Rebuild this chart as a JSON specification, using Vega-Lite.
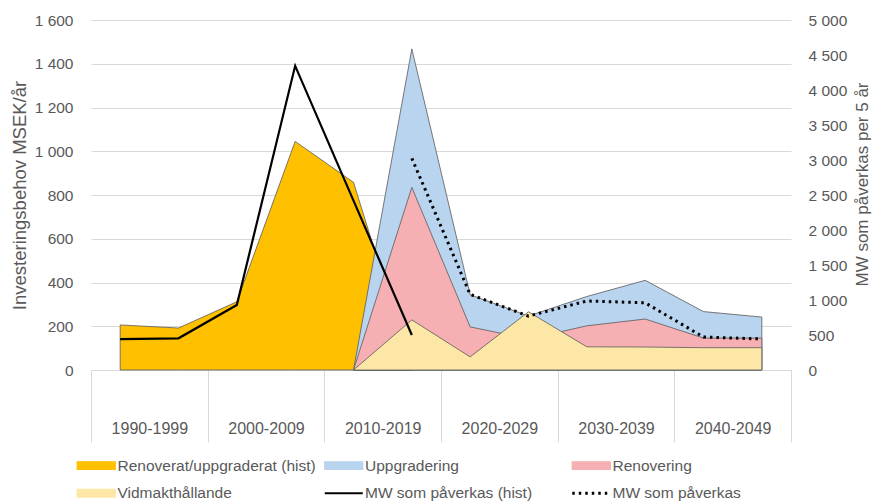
{
  "$schema": "https://vega.github.io/schema/vega-lite/v6.json",
  "width": 700,
  "height": 350,
  "autosize": {"type": "none"},
  "padding": {"left": 91, "top": 20, "right": 86, "bottom": 131},
  "background": "white",
  "config": {
    "view": {"stroke": null},
    "font": "Liberation Sans",
    "axis": {"labelFont": "Liberation Sans", "titleFont": "Liberation Sans", "labelColor": "#595959", "titleColor": "#595959", "titleFontWeight": "normal"}
  },
  "datasets": {
    "areas": [
      {"year": 1992.5, "series": "Renoverat/uppgraderat (hist)", "value": 206},
      {"year": 1997.5, "series": "Renoverat/uppgraderat (hist)", "value": 192},
      {"year": 2002.5, "series": "Renoverat/uppgraderat (hist)", "value": 312},
      {"year": 2007.5, "series": "Renoverat/uppgraderat (hist)", "value": 1045},
      {"year": 2012.5, "series": "Renoverat/uppgraderat (hist)", "value": 858},
      {"year": 2017.5, "series": "Renoverat/uppgraderat (hist)", "value": 0},
      {"year": 2012.5, "series": "Uppgradering", "value": 0},
      {"year": 2017.5, "series": "Uppgradering", "value": 1468},
      {"year": 2022.5, "series": "Uppgradering", "value": 344},
      {"year": 2027.5, "series": "Uppgradering", "value": 247},
      {"year": 2032.5, "series": "Uppgradering", "value": 336},
      {"year": 2037.5, "series": "Uppgradering", "value": 410},
      {"year": 2042.5, "series": "Uppgradering", "value": 267},
      {"year": 2047.5, "series": "Uppgradering", "value": 242},
      {"year": 2012.5, "series": "Renovering", "value": 0},
      {"year": 2017.5, "series": "Renovering", "value": 835},
      {"year": 2022.5, "series": "Renovering", "value": 197},
      {"year": 2027.5, "series": "Renovering", "value": 142},
      {"year": 2032.5, "series": "Renovering", "value": 202},
      {"year": 2037.5, "series": "Renovering", "value": 233},
      {"year": 2042.5, "series": "Renovering", "value": 146},
      {"year": 2047.5, "series": "Renovering", "value": 146},
      {"year": 2012.5, "series": "Vidmakthållande", "value": 0},
      {"year": 2017.5, "series": "Vidmakthållande", "value": 229},
      {"year": 2022.5, "series": "Vidmakthållande", "value": 60},
      {"year": 2027.5, "series": "Vidmakthållande", "value": 266},
      {"year": 2032.5, "series": "Vidmakthållande", "value": 106},
      {"year": 2037.5, "series": "Vidmakthållande", "value": 105},
      {"year": 2042.5, "series": "Vidmakthållande", "value": 102},
      {"year": 2047.5, "series": "Vidmakthållande", "value": 102}
    ],
    "mw": [
      {"year": 1992.5, "series": "MW som påverkas (hist)", "mw": 440},
      {"year": 1997.5, "series": "MW som påverkas (hist)", "mw": 453},
      {"year": 2002.5, "series": "MW som påverkas (hist)", "mw": 929},
      {"year": 2007.5, "series": "MW som påverkas (hist)", "mw": 4345},
      {"year": 2012.5, "series": "MW som påverkas (hist)", "mw": 2420},
      {"year": 2017.5, "series": "MW som påverkas (hist)", "mw": 500},
      {"year": 2017.5, "series": "MW som påverkas", "mw": 3024},
      {"year": 2022.5, "series": "MW som påverkas", "mw": 1080},
      {"year": 2027.5, "series": "MW som påverkas", "mw": 770},
      {"year": 2032.5, "series": "MW som påverkas", "mw": 986},
      {"year": 2037.5, "series": "MW som påverkas", "mw": 960},
      {"year": 2042.5, "series": "MW som påverkas", "mw": 471},
      {"year": 2047.5, "series": "MW som påverkas", "mw": 443}
    ]
  },
  "layer": [
    {
      "data": {"name": "areas"},
      "encoding": {
        "x": {"field": "year", "type": "quantitative", "scale": {"domain": [1990, 2050], "nice": false, "zero": false},
          "axis": {"orient": "bottom", "values": [1990, 2000, 2010, 2020, 2030, 2040, 2050], "tickSize": 72, "tickColor": "#d9d9d9", "tickWidth": 1, "labels": false, "domainColor": "#d9d9d9", "title": null, "grid": false}},
        "y": {"field": "value", "type": "quantitative", "stack": null, "scale": {"domain": [0, 1600], "nice": false},
          "axis": {"title": "Investeringsbehov MSEK/år", "values": [0, 200, 400, 600, 800, 1000, 1200, 1400, 1600], "grid": true, "gridColor": "#d9d9d9", "domain": false, "ticks": false, "labelPadding": 18, "labelFontSize": 15.5, "labelExpr": "replace(format(datum.value, ','), ',', ' ')", "titleFontSize": 18.5, "titlePadding": 5}},
        "color": {"field": "series", "type": "nominal",
          "scale": {"domain": ["Renoverat/uppgraderat (hist)", "Uppgradering", "Renovering", "Vidmakthållande", "MW som påverkas (hist)", "MW som påverkas"],
                    "range": ["#FFC000", "#b9d4ee", "#f6b0b3", "#fde7a6", "#000000", "#000000"]},
          "legend": {
            "orient": "none", "legendX": -2.5, "legendY": 437.5, "columns": 3, "direction": "horizontal", "title": null,
            "gridAlign": "all", "columnPadding": 1.5, "rowPadding": 11, "padding": 0,
            "symbolType": "M-2,-0.4H2V0.4H-2Z", "symbolSize": 361, "labelOffset": 13.5,
            "labelFont": "Liberation Sans", "labelFontSize": 15.5, "labelColor": "#595959", "labelLimit": 300,
            "encode": {"symbols": {"update": {
              "shape": {"signal": "indexof(['MW som påverkas (hist)','MW som påverkas'], datum.value) >= 0 ? 'M-2,0H2' : 'M-2,-0.4H2V0.4H-2Z'"},
              "fill": {"signal": "indexof(['MW som påverkas (hist)','MW som påverkas'], datum.value) >= 0 ? 'transparent' : scale('color', datum.value)"},
              "fillOpacity": {"value": 1},
              "opacity": {"value": 1},
              "strokeOpacity": {"value": 1},
              "stroke": {"signal": "indexof(['MW som påverkas (hist)','MW som påverkas'], datum.value) >= 0 ? '#000000' : '#262626'"},
              "strokeWidth": {"signal": "datum.value == 'MW som påverkas (hist)' ? 2.2 : (datum.value == 'MW som påverkas' ? 3 : 1.3)"},
              "strokeDash": {"signal": "datum.value == 'MW som påverkas' ? [2.5, 4] : [1, 0]"}
            }}}
          }}
      },
      "layer": [
        {"transform": [{"filter": "datum.series == 'Renoverat/uppgraderat (hist)'"}],
         "mark": {"type": "area", "stroke": "#595959", "strokeWidth": 0.8, "opacity": 1, "fillOpacity": 1}},
        {"transform": [{"filter": "datum.series == 'Uppgradering'"}],
         "mark": {"type": "area", "stroke": "#595959", "strokeWidth": 0.8, "opacity": 1, "fillOpacity": 1}},
        {"transform": [{"filter": "datum.series == 'Renovering'"}],
         "mark": {"type": "area", "stroke": "#595959", "strokeWidth": 0.8, "opacity": 1, "fillOpacity": 1}},
        {"transform": [{"filter": "datum.series == 'Vidmakthållande'"}],
         "mark": {"type": "area", "stroke": "#595959", "strokeWidth": 0.8, "opacity": 1, "fillOpacity": 1}}
      ]
    },
    {
      "data": {"name": "mw"},
      "encoding": {
        "x": {"field": "year", "type": "quantitative", "scale": {"domain": [1990, 2050], "nice": false, "zero": false},
          "axis": {"orient": "bottom", "values": [1995, 2005, 2015, 2025, 2035, 2045], "ticks": false, "tickSize": 0, "domain": false, "grid": false, "title": null,
                   "labelExpr": "(datum.value - 5) + '-' + (datum.value + 4)", "labelFontSize": 16, "labelPadding": 50, "labelBaseline": "top"}},
        "y": {"field": "mw", "type": "quantitative", "scale": {"domain": [0, 5000], "nice": false},
          "axis": {"orient": "right", "title": "MW som påverkas per 5 år", "values": [0, 500, 1000, 1500, 2000, 2500, 3000, 3500, 4000, 4500, 5000], "grid": false, "domain": false, "ticks": false, "labelPadding": 17, "labelFontSize": 15.5, "labelExpr": "replace(format(datum.value, ','), ',', ' ')", "titleFontSize": 17, "titleAngle": 270, "titleBaseline": "top", "titlePadding": 8, "titleY": 164}},
        "color": {"field": "series", "type": "nominal",
          "legend": {
            "orient": "none", "legendX": -2.5, "legendY": 437.5, "columns": 3, "direction": "horizontal", "title": null,
            "gridAlign": "all", "columnPadding": 1.5, "rowPadding": 11, "padding": 0,
            "symbolType": "M-2,-0.4H2V0.4H-2Z", "symbolSize": 361, "labelOffset": 13.5,
            "labelFont": "Liberation Sans", "labelFontSize": 15.5, "labelColor": "#595959", "labelLimit": 300,
            "encode": {"symbols": {"update": {
              "shape": {"signal": "indexof(['MW som påverkas (hist)','MW som påverkas'], datum.value) >= 0 ? 'M-2,0H2' : 'M-2,-0.4H2V0.4H-2Z'"},
              "fill": {"signal": "indexof(['MW som påverkas (hist)','MW som påverkas'], datum.value) >= 0 ? 'transparent' : scale('color', datum.value)"},
              "fillOpacity": {"value": 1},
              "opacity": {"value": 1},
              "strokeOpacity": {"value": 1},
              "stroke": {"signal": "indexof(['MW som påverkas (hist)','MW som påverkas'], datum.value) >= 0 ? '#000000' : '#262626'"},
              "strokeWidth": {"signal": "datum.value == 'MW som påverkas (hist)' ? 2.2 : (datum.value == 'MW som påverkas' ? 3 : 1.3)"},
              "strokeDash": {"signal": "datum.value == 'MW som påverkas' ? [2.5, 4] : [1, 0]"}
            }}}
          }}
      },
      "layer": [
        {"transform": [{"filter": "datum.series == 'MW som påverkas (hist)'"}],
         "mark": {"type": "line", "strokeWidth": 2.2}},
        {"transform": [{"filter": "datum.series == 'MW som påverkas'"}],
         "mark": {"type": "line", "strokeWidth": 3, "strokeDash": [2.5, 4]}}
      ]
    }
  ],
  "resolve": {"scale": {"y": "independent"}, "axis": {"x": "independent"}}
}
